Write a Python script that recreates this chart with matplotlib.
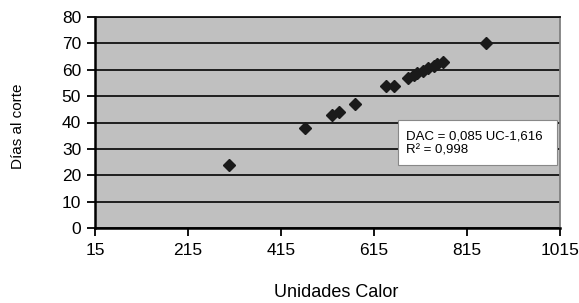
import matplotlib
matplotlib.use("Agg")
import matplotlib.pyplot as plt
from matplotlib.patches import Rectangle

plt.rcParams['font.family'] = ['Liberation Sans', 'DejaVu Sans']

# Data
unidades_calor = [303, 467, 524, 540, 574, 641, 657, 689, 700, 707, 721, 732, 743, 750, 764, 856]
dias_corte = [24, 38, 43, 44, 47, 54, 54, 57, 58, 58.6, 59.6, 60.5, 61.4, 62, 63, 70]
x_ticks = [15, 215, 415, 615, 815, 1015]
y_ticks = [0, 10, 20, 30, 40, 50, 60, 70, 80]
x_label = "Unidades Calor"
y_label = "Días al corte"
eq_text = "DAC = 0,085 UC-1,616\nR² = 0,998"

fig = plt.figure(figsize=(5.79, 3.03), dpi=100)
ax = fig.add_axes([95/579, 1 - 228/303, 465/579, 211/303])
ax.set_facecolor('#c0c0c0')

ax.set_xlim(15, 1015)
ax.set_ylim(0, 80)
ax.set_xticks(x_ticks)
ax.set_yticks(y_ticks)
ax.set_xticklabels([str(v) for v in x_ticks])
ax.set_yticklabels([str(v) for v in y_ticks])

ax.yaxis.grid(True, color='#111111', linewidth=1.3)
ax.set_axisbelow(True)

for side in ['left', 'bottom']:
    ax.spines[side].set_color('black')
    ax.spines[side].set_linewidth(1.8)
ax.spines['top'].set_color('#111111')
ax.spines['top'].set_linewidth(1.3)
ax.spines['right'].set_color('#808080')
ax.spines['right'].set_linewidth(1.3)

ax.tick_params(axis='both', direction='out', length=6, width=1.3, color='black',
               labelsize=12.5, pad=5)
ax.tick_params(axis='y', pad=4)

ax.plot(unidades_calor, dias_corte, linestyle='none', marker='D', markersize=6.5,
        color='#1a1a1a', zorder=3)

ax.set_xlabel(x_label, fontsize=13)
ax.set_ylabel(y_label, fontsize=11)
ax.xaxis.set_label_coords(0.518, -0.265)
ax.yaxis.set_label_coords(-0.15, 0.483)

rect = Rectangle((0.652, 0.299), 0.342, 0.213, transform=ax.transAxes,
                 facecolor='white', edgecolor='#888888', linewidth=0.8, zorder=4)
ax.add_patch(rect)
ax.text(0.668, 0.402, eq_text, transform=ax.transAxes, fontsize=9.5,
        va='center', ha='left', linespacing=1.25, zorder=5)

fig.savefig('out.png', dpi=100)
